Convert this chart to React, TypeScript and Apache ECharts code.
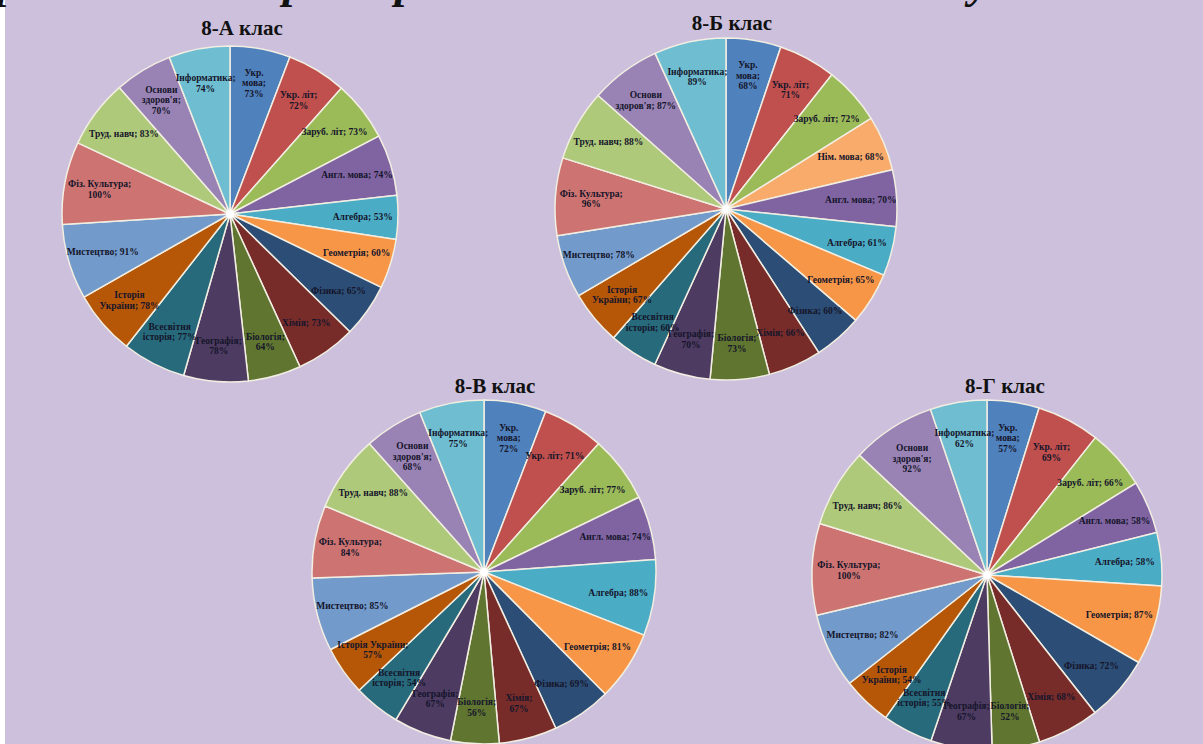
import React, { useEffect, useRef } from "react";
import * as echarts from "echarts";

const subjects17 = [
  "Укр. мова", "Укр. літ", "Заруб. літ", "Англ. мова", "Алгебра", "Геометрія",
  "Фізика", "Хімія", "Біологія", "Географія", "Всесвітня історія", "Історія України",
  "Мистецтво", "Фіз. Культура", "Труд. навч", "Основи здоров'я", "Інформатика",
];
const subjects18 = [
  "Укр. мова", "Укр. літ", "Заруб. літ", "Нім. мова", "Англ. мова", "Алгебра", "Геометрія",
  "Фізика", "Хімія", "Біологія", "Географія", "Всесвітня історія", "Історія України",
  "Мистецтво", "Фіз. Культура", "Труд. навч", "Основи здоров'я", "Інформатика",
];

const values8A = [73, 72, 73, 74, 53, 60, 65, 73, 64, 78, 77, 78, 91, 100, 83, 70, 74];
const values8B = [68, 71, 72, 68, 70, 61, 65, 60, 66, 73, 70, 60, 67, 78, 96, 88, 87, 89];
const values8V = [72, 71, 77, 74, 88, 81, 69, 67, 56, 67, 54, 57, 85, 84, 88, 68, 75];
const values8G = [57, 69, 66, 58, 58, 87, 72, 68, 52, 67, 55, 54, 82, 100, 86, 92, 62];

const classTitles = ["8-А клас", "8-Б клас", "8-В клас", "8-Г клас"];
const mainTitle = "Порівняльна діаграма рівня навчальних досягнень учнів 8-х класів";

const palette = [
  "#4F81BD", "#C0504D", "#9BBB59", "#8064A2", "#4BACC6", "#F79646",
  "#2C4D75", "#772C2A", "#5F7530", "#4D3B62", "#276A7C", "#B65708",
  "#729ACA", "#CD7371", "#AFC97A", "#9983B5", "#6FBDD1", "#F9AB6B",
];

const pies = [
  { names: subjects17, values: values8A, center: [230, 214], r: 168, title: [237, 12] },
  { names: subjects18, values: values8B, center: [726, 209], r: 171, title: [727, 7] },
  { names: subjects17, values: values8V, center: [484, 572], r: 172, title: [490, 370] },
  { names: subjects17, values: values8G, center: [987, 575], r: 175, title: [1000, 370] },
];

const LABEL_SIZE = 9.5;
const LABEL_FONT = `bold ${LABEL_SIZE}px 'Liberation Serif'`;

// wrap width for a slice label: narrower for slices pointing up/down, wide for sideways ones
function wrapWidth(values: number[], i: number) {
  const total = values.reduce((a, b) => a + b, 0);
  let cum = 0;
  for (let k = 0; k < i; k++) cum += values[k];
  const mid = ((cum + values[i] / 2) / total) * Math.PI * 2;
  return 36 + 44 * Math.abs(Math.sin(mid));
}

let measureCtx: CanvasRenderingContext2D | null = null;
function textWidth(s: string) {
  if (!measureCtx) {
    measureCtx = document.createElement("canvas").getContext("2d");
    if (measureCtx) measureCtx.font = LABEL_FONT;
  }
  return measureCtx ? measureCtx.measureText(s).width : s.length * 5;
}

// word wrap at spaces only
function wrapWords(text: string, maxW: number) {
  const words = text.split(" ");
  const lines: string[] = [];
  let cur = "";
  words.forEach((w) => {
    const trial = cur ? cur + " " + w : w;
    if (cur && textWidth(trial) > maxW) {
      lines.push(cur);
      cur = w;
    } else {
      cur = trial;
    }
  });
  if (cur) lines.push(cur);
  return lines.join("\n");
}

export default function App() {
  const ref = useRef<HTMLDivElement>(null);
  useEffect(() => {
    if (!ref.current) return;
    const chart = echarts.init(ref.current, undefined, { renderer: "svg" });
    const series: any[] = [];
    pies.forEach((p) => {
      const data = p.names.map((n, i) => ({ name: n, value: p.values[i] }));
      series.push({
        type: "pie",
        center: p.center,
        radius: [0, p.r],
        startAngle: 90,
        clockwise: true,
        avoidLabelOverlap: false,
        data,
        color: palette,
        itemStyle: { borderColor: "#F2EEE2", borderWidth: 1.5 },
        label: { show: false },
        labelLine: { show: false },
        emphasis: { disabled: true },
      });
      series.push({
        type: "sunburst",
        center: p.center,
        radius: [p.r * 0.58, p.r],
        startAngle: 90,
        clockwise: true,
        sort: null,
        silent: true,
        nodeClick: false,
        data: data.map((d, i) => ({
          ...d,
          itemStyle: { color: "rgba(0,0,0,0)", borderWidth: 0 },
          label: {
            formatter: wrapWords(`${d.name}; ${d.value}%`, wrapWidth(p.values, i)),
          },
        })),
        itemStyle: { color: "rgba(0,0,0,0)", borderWidth: 0 },
        label: {
          show: true,
          rotate: 0,
          position: "inside",
          align: "center",
          color: "#15152a",
          fontFamily: "Liberation Serif",
          fontWeight: "bold",
          fontSize: LABEL_SIZE,
          lineHeight: 10.5,
        },
        emphasis: { disabled: true },
      });
    });

    const graphic: any[] = [
      { type: "rect", shape: { x: 0, y: 0, width: 5, height: 744 }, style: { fill: "#ffffff" } },
      {
        type: "text",
        x: 610,
        y: 4,
        style: {
          text: mainTitle,
          fill: "#111",
          font: "italic bold 46px 'Liberation Serif'",
          align: "center",
          verticalAlign: "bottom",
        },
      },
    ];
    pies.forEach((p) => {
      graphic.push({
        type: "circle",
        shape: { cx: p.center[0], cy: p.center[1], r: 4 },
        style: { fill: "#ffffff", shadowBlur: 6, shadowColor: "#ffffff" },
        z: 100,
      });
    });

    chart.setOption({
      animation: false,
      backgroundColor: "#CCC0DC",
      title: pies.map((p, i) => ({
        text: classTitles[i],
        left: p.title[0],
        top: p.title[1],
        textAlign: "center",
        textStyle: {
          fontFamily: "Liberation Serif",
          fontWeight: "bold",
          fontSize: 21,
          color: "#111",
        },
      })),
      series,
      graphic,
    });
    return () => chart.dispose();
  }, []);
  return (
    <div
      ref={ref}
      style={{ position: "fixed", left: 0, top: 0, width: 1203, height: 744 }}
    />
  );
}
